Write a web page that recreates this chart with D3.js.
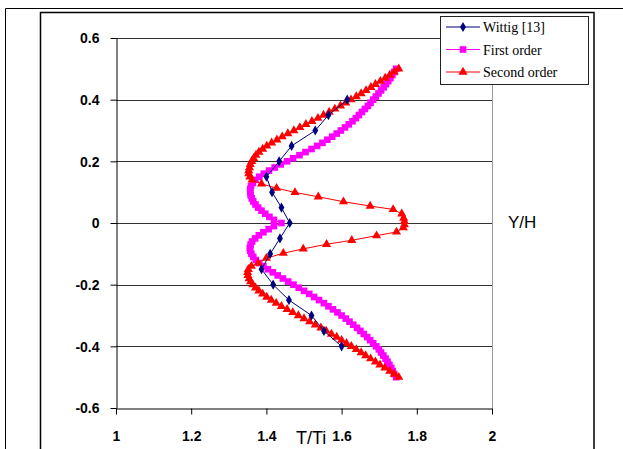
<!DOCTYPE html>
<html><head><meta charset="utf-8">
<script src="https://cdn.jsdelivr.net/npm/d3@7"></script>
<style>html,body{margin:0;padding:0;background:#fff;}svg{display:block;}</style>
</head><body>
<svg id="c" width="623" height="449"></svg>
<script>
// ---- data ----
const xTicks = [1, 1.2, 1.4, 1.6, 1.8, 2];
const yTicks = [-0.6, -0.4, -0.2, 0, 0.2, 0.4, 0.6];
const seriesNames = ["Wittig [13]", "First order", "Second order"];

const wittigY = [0.4,0.35,0.3,0.25,0.2,0.15,0.1,0.05,0,-0.05,-0.1,-0.15,-0.2,-0.25,-0.3,-0.35,-0.4];
const wittigT = [1.615,1.565,1.530,1.467,1.434,1.400,1.415,1.440,1.462,1.436,1.410,1.387,1.418,1.460,1.520,1.553,1.600];

const firstY = [0.50,0.49,0.48,0.47,0.46,0.45,0.44,0.43,0.42,0.41,0.40,0.39,0.38,0.37,0.36,0.35,0.34,0.33,0.32,0.31,
  0.30,0.29,0.28,0.27,0.26,0.25,0.24,0.23,0.22,0.21,0.20,0.19,0.18,0.17,0.16,0.15,0.14,0.13,0.12,0.11,
  0.10,0.09,0.08,0.07,0.06,0.05,0.04,0.03,0.02,0.01,0.00,-0.01,-0.02,-0.03,-0.04,-0.05,-0.06,-0.07,-0.08,-0.09,
  -0.10,-0.11,-0.12,-0.13,-0.14,-0.15,-0.16,-0.17,-0.18,-0.19,-0.20,-0.21,-0.22,-0.23,-0.24,-0.25,-0.26,-0.27,-0.28,-0.29,
  -0.30,-0.31,-0.32,-0.33,-0.34,-0.35,-0.36,-0.37,-0.38,-0.39,-0.40,-0.41,-0.42,-0.43,-0.44,-0.45,-0.46,-0.47,-0.48,-0.49,-0.50];
const firstT = [1.745,1.740,1.735,1.730,1.724,1.718,1.712,1.705,1.698,1.691,1.684,1.677,1.670,1.662,1.654,1.646,1.638,1.629,1.619,1.609,
  1.598,1.587,1.575,1.562,1.549,1.535,1.520,1.504,1.488,1.471,1.455,1.438,1.422,1.407,1.393,1.381,1.371,1.364,1.359,1.357,
  1.357,1.358,1.361,1.365,1.371,1.378,1.387,1.397,1.408,1.420,1.440,1.420,1.406,1.392,1.380,1.370,1.362,1.358,1.356,1.357,
  1.360,1.365,1.372,1.381,1.392,1.404,1.417,1.430,1.444,1.458,1.472,1.486,1.500,1.514,1.527,1.540,1.553,1.565,1.577,1.589,
  1.600,1.611,1.621,1.631,1.641,1.650,1.659,1.668,1.676,1.684,1.692,1.699,1.705,1.711,1.717,1.722,1.727,1.732,1.736,1.740,1.745];

const secondY = [0.50,0.49,0.48,0.47,0.46,0.45,0.44,0.43,0.42,0.41,0.40,0.39,0.38,0.37,0.36,0.35,0.34,0.33,0.32,0.31,
  0.30,0.29,0.28,0.27,0.26,0.25,0.24,0.23,0.22,0.21,0.20,0.19,0.18,0.17,0.16,0.15,0.14,
  0.127,0.113,0.099,0.085,0.069,0.055,0.044,0.030,0.016,0.005,-0.005,-0.015,-0.029,-0.041,-0.056,-0.069,-0.084,-0.098,-0.114,-0.130,
  -0.14,-0.15,-0.16,-0.17,-0.18,-0.19,-0.20,-0.21,-0.22,-0.23,-0.24,-0.25,-0.26,-0.27,-0.28,-0.29,-0.30,-0.31,-0.32,-0.33,
  -0.34,-0.35,-0.36,-0.37,-0.38,-0.39,-0.40,-0.41,-0.42,-0.43,-0.44,-0.45,-0.46,-0.47,-0.48,-0.49,-0.50];
const secondT = [1.752,1.740,1.728,1.716,1.703,1.690,1.678,1.665,1.652,1.639,1.625,1.611,1.597,1.582,1.567,1.552,1.537,1.521,1.505,1.489,
  1.473,1.457,1.442,1.428,1.414,1.401,1.390,1.380,1.372,1.366,1.361,1.357,1.355,1.353,1.353,1.356,1.362,
  1.387,1.427,1.476,1.538,1.605,1.676,1.737,1.760,1.765,1.767,1.767,1.764,1.746,1.693,1.627,1.560,1.498,1.445,1.400,1.378,
  1.360,1.352,1.350,1.351,1.354,1.358,1.364,1.371,1.380,1.390,1.401,1.413,1.426,1.440,1.455,1.470,1.485,1.500,1.515,1.530,
  1.545,1.559,1.573,1.587,1.600,1.613,1.626,1.639,1.652,1.664,1.677,1.690,1.702,1.715,1.728,1.740,1.752];

// ---- chart ----
const svg = d3.select("#c");
const X0 = 116, X1 = 492, Y0 = 408, Y1 = 38;
const x = d3.scaleLinear().domain([1, 2]).range([X0, X1]);
const y = d3.scaleLinear().domain([-0.6, 0.6]).range([Y0, Y1]);

// frames
svg.append("path").attr("d", "M5.5,449V8.5H623").attr("fill", "none").attr("stroke", "#000");
svg.append("path").attr("d", "M40.5,449V12.5H594V449").attr("fill", "none").attr("stroke", "#000").attr("stroke-width", 1.5);

// gridlines
svg.append("g").selectAll("line").data(yTicks.filter(d => d !== -0.6)).join("line")
  .attr("x1", X0).attr("x2", X1)
  .attr("y1", d => Math.round(y(d)) + 0.5).attr("y2", d => Math.round(y(d)) + 0.5)
  .attr("stroke", "#333").attr("stroke-width", 1);
// plot area right border
svg.append("line").attr("x1", X1 + 0.5).attr("x2", X1 + 0.5).attr("y1", Y1).attr("y2", Y0)
  .attr("stroke", "#999");

const fmt = d => d === 0 ? "0" : (Number.isInteger(d) ? String(d) : d.toFixed(1));

// axes
const gx = svg.append("g").attr("transform", `translate(0,${Y0 + 0.5})`)
  .call(d3.axisBottom(x).tickValues(xTicks).tickSize(6).tickSizeOuter(0).tickFormat(fmt));
gx.select(".domain").attr("stroke", "#000");
gx.selectAll("text").attr("y", 32).attr("dy", 0)
  .style("font-family", "'Liberation Sans', Arial, sans-serif").style("font-weight", "bold").style("font-size", "14px").attr("fill", "#000");

const gy = svg.append("g").attr("transform", `translate(${X0 + 0.5},0)`)
  .call(d3.axisLeft(y).tickValues(yTicks).tickSize(6).tickSizeOuter(0).tickFormat(fmt));
gy.select(".domain").attr("stroke", "#000");
gy.selectAll("text").attr("x", -17).attr("dy", "0.35em")
  .style("font-family", "'Liberation Sans', Arial, sans-serif").style("font-weight", "bold").style("font-size", "14px").attr("fill", "#000");

// axis titles
svg.append("text").attr("x", 296).attr("y", 444).text("T/Ti")
  .style("font-family", "'Liberation Sans', Arial, sans-serif").style("font-size", "18px");
svg.append("text").attr("x", 508).attr("y", 228).text("Y/H")
  .style("font-family", "'Liberation Sans', Arial, sans-serif").style("font-size", "17px");

// series
const series = [
  {name: seriesNames[1], ys: firstY, ts: firstT, color: "#FF00FF", sym: d3.symbolSquare, size: 44, lw: 1},
  {name: seriesNames[2], ys: secondY, ts: secondT, color: "#FF0000", sym: d3.symbolTriangle, size: 36, lw: 1},
  {name: seriesNames[0], ys: wittigY, ts: wittigT, color: "#000080", sym: d3.symbolDiamond, size: 30, lw: 1}
];
const line = d3.line().x(d => x(d[0])).y(d => y(d[1]));
series.forEach(s => {
  const pts = s.ts.map((t, i) => [t, s.ys[i]]);
  const g = svg.append("g");
  g.append("path").attr("d", line(pts)).attr("fill", "none").attr("stroke", s.color).attr("stroke-width", s.lw);
  g.selectAll("path.m").data(pts).join("path").attr("class", "m")
    .attr("transform", d => `translate(${x(d[0])},${y(d[1])})`)
    .attr("d", d3.symbol().type(s.sym).size(s.size)).attr("fill", s.color);
});

// legend
const lg = svg.append("g");
lg.append("rect").attr("x", 440.5).attr("y", 16.5).attr("width", 148).attr("height", 68)
  .attr("fill", "#fff").attr("stroke", "#222");
const legendItems = [
  {name: seriesNames[0], color: "#000080", sym: d3.symbolDiamond, size: 30},
  {name: seriesNames[1], color: "#FF00FF", sym: d3.symbolSquare, size: 44},
  {name: seriesNames[2], color: "#FF0000", sym: d3.symbolTriangle, size: 36}
];
legendItems.forEach((it, i) => {
  const cy = 27 + i * 22.5;
  lg.append("line").attr("x1", 446).attr("x2", 480).attr("y1", cy).attr("y2", cy).attr("stroke", it.color);
  lg.append("path").attr("transform", `translate(463,${cy})`).attr("d", d3.symbol().type(it.sym).size(it.size)).attr("fill", it.color);
  lg.append("text").attr("x", 483).attr("y", cy + 5).text(it.name)
    .style("font-family", "'Liberation Serif', 'Times New Roman', serif").style("font-size", "14px");
});
</script>
</body></html>
